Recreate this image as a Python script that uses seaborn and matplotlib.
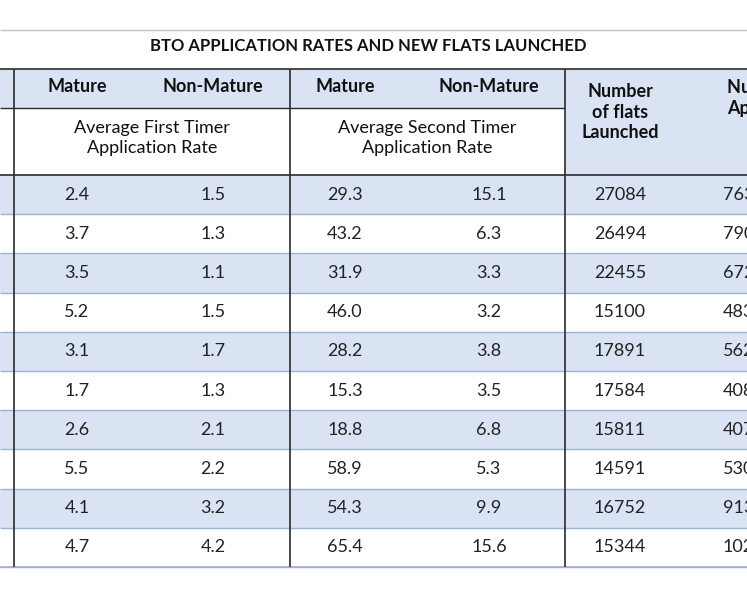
import seaborn as sns
import matplotlib.pyplot as plt

sns.set_style("white")
plt.rcParams['font.family'] = ['Lato', 'DejaVu Sans']

title = "BTO APPLICATION RATES AND NEW FLATS LAUNCHED"
first_mature = ["2.4", "3.7", "3.5", "5.2", "3.1", "1.7", "2.6", "5.5", "4.1", "4.7"]
first_non_mature = ["1.5", "1.3", "1.1", "1.5", "1.7", "1.3", "2.1", "2.2", "3.2", "4.2"]
second_mature = ["29.3", "43.2", "31.9", "46.0", "28.2", "15.3", "18.8", "58.9", "54.3", "65.4"]
second_non_mature = ["15.1", "6.3", "3.3", "3.2", "3.8", "3.5", "6.8", "5.3", "9.9", "15.6"]
flats_launched = ["27084", "26494", "22455", "15100", "17891", "17584", "15811", "14591", "16752", "15344"]
applicants = ["7632", "7904", "6721", "4836", "5627", "4081", "4073", "5306", "9132", "10254"]

blue = "#dae3f3"
dark = "#2b2b2b"
grey = "#9fb3cf"

fig = plt.figure(figsize=(7.47, 5.98), dpi=100)
ax = fig.add_axes([0, 0, 1, 1])
ax.set_xlim(0, 747)
ax.set_ylim(598, 0)
ax.axis("off")

# title row
ax.hlines(30, 0, 747, color="#b7c4d6", lw=1)
ax.text(368, 46, title, ha="center", va="center", fontsize=12, fontweight="bold", color="#111")

# header
ax.axhspan(69, 108, color=blue, lw=0)
ax.axvspan(565, 747, ymin=1 - 175 / 598, ymax=1 - 69 / 598, color=blue, lw=0)
ax.hlines(69, 0, 747, color=dark, lw=1.2)
ax.hlines(108, 0, 565, color=dark, lw=1)
ax.hlines(175, 0, 747, color=dark, lw=1.2)
for x, lab in [(77, "Mature"), (213, "Non-Mature"), (345, "Mature"), (489, "Non-Mature")]:
    ax.text(x, 86, lab, ha="center", va="center", fontsize=13, fontweight="bold", color="#111")
ax.text(152, 138, "Average First Timer\nApplication Rate", ha="center", va="center",
        fontsize=13, color="#111", linespacing=1.3)
ax.text(427, 138, "Average Second Timer\nApplication Rate", ha="center", va="center",
        fontsize=13, color="#111", linespacing=1.3)
ax.text(620, 112, "Number\nof flats\nLaunched", ha="center", va="center",
        fontsize=13, fontweight="bold", color="#111", linespacing=1.25)
ax.text(727, 98, "Number of\nApplicants", ha="left", va="center",
        fontsize=13, fontweight="bold", color="#111", linespacing=1.25)

# data rows
top, h = 175, 39.2
cols = [(77, first_mature), (213, first_non_mature), (345, second_mature),
        (489, second_non_mature), (620, flats_launched), (723, applicants)]
for i in range(len(first_mature)):
    y0 = top + i * h
    if i % 2 == 0:
        ax.axhspan(y0, y0 + h, color=blue, lw=0)
    ax.hlines(y0 + h, 0, 747, color=grey, lw=1)
    for x, vals in cols:
        ax.text(x, y0 + h / 2, vals[i], ha="left" if x == 723 else "center",
                va="center", fontsize=13, color="#222")
ax.hlines(top + 10 * h, 0, 747, color=grey, lw=1.2)

for x in (14, 290, 565):
    ax.vlines(x, 69, top + 10 * h, color=dark, lw=1.2)

fig.savefig("out.png", dpi=100)
